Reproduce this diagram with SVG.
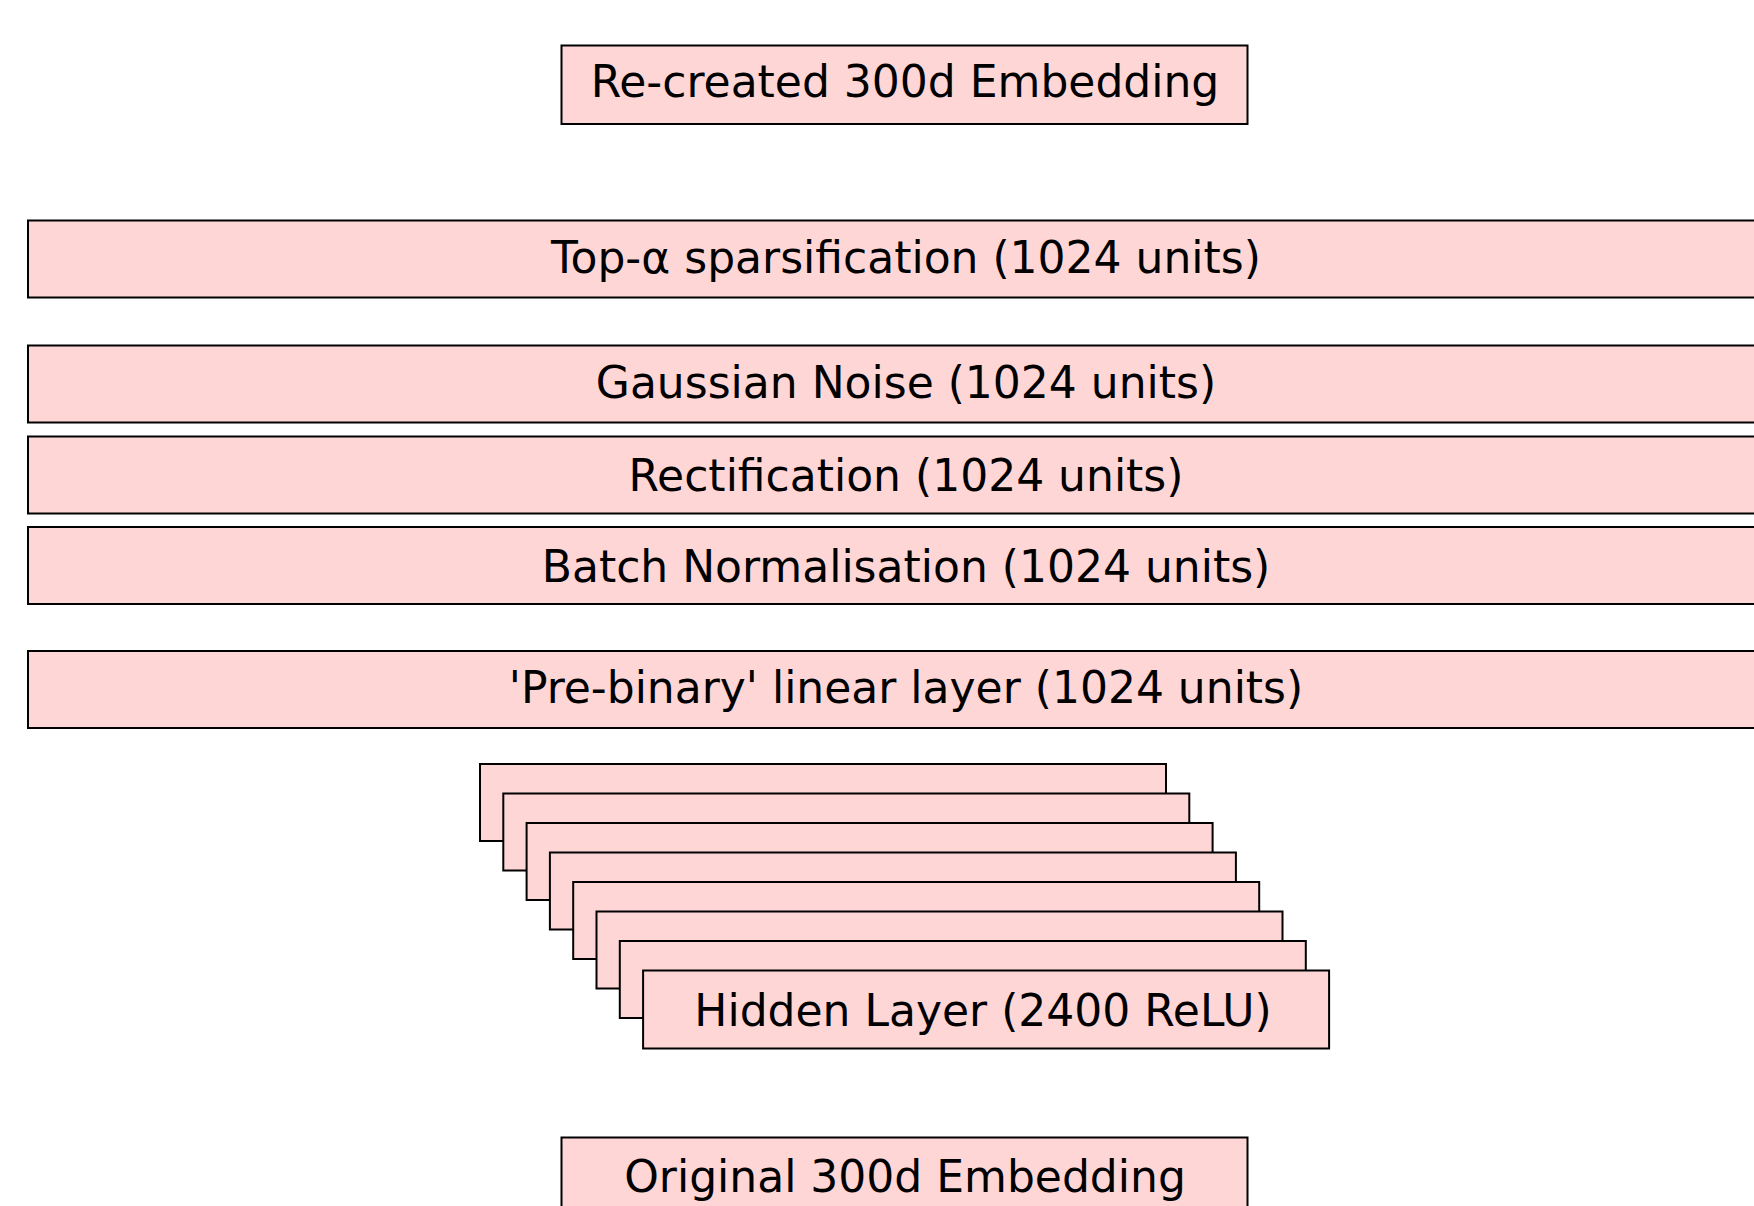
<svg xmlns="http://www.w3.org/2000/svg" width="1754" height="1206" viewBox="0 0 1754 1206">
  <style>
    .box { fill: #ffd6d6; stroke: #000000; stroke-width: 2; }
    .lbl { font-family: "DejaVu Sans", "Liberation Sans", sans-serif; font-size: 44px; fill: #000000; text-anchor: middle; }
  </style>
  <rect x="0" y="0" width="1754" height="1206" fill="#ffffff"/>

  <g id="connectors"></g>

  <g id="recreated-embedding">
    <rect class="box" x="561.5" y="45.5" width="686" height="78.5"/>
    <text class="lbl" x="905" y="97">Re-created 300d Embedding</text>
  </g>

  <g id="top-alpha">
    <rect class="box" x="28" y="220.5" width="1760" height="77"/>
    <text class="lbl" x="906" y="273">Top-α sparsification (1024 units)</text>
  </g>

  <g id="gaussian-noise">
    <rect class="box" x="28" y="345.5" width="1760" height="77"/>
    <text class="lbl" x="906" y="398">Gaussian Noise (1024 units)</text>
  </g>

  <g id="rectification">
    <rect class="box" x="28" y="436.5" width="1760" height="77"/>
    <text class="lbl" x="906" y="491">Rectification (1024 units)</text>
  </g>

  <g id="batch-norm">
    <rect class="box" x="28" y="527" width="1760" height="77"/>
    <text class="lbl" x="906" y="582">Batch Normalisation (1024 units)</text>
  </g>

  <g id="pre-binary">
    <rect class="box" x="28" y="651" width="1760" height="77"/>
    <text class="lbl" x="906" y="703">'Pre-binary' linear layer (1024 units)</text>
  </g>

  <!-- stacked copies of the hidden layer, back to front -->
  <g id="hidden-layer">
    <rect class="box" x="480" y="764" width="686" height="77"/>
    <rect class="box" x="503.3" y="793.5" width="686" height="77"/>
    <rect class="box" x="526.6" y="823" width="686" height="77"/>
    <rect class="box" x="549.9" y="852.5" width="686" height="77"/>
    <rect class="box" x="573.2" y="882" width="686" height="77"/>
    <rect class="box" x="596.5" y="911.5" width="686" height="77"/>
    <rect class="box" x="619.8" y="941" width="686" height="77"/>
    <rect class="box" x="643.1" y="970.5" width="686" height="78"/>
    <text class="lbl" x="983" y="1026">Hidden Layer (2400 ReLU)</text>
  </g>

  <g id="original-embedding">
    <rect class="box" x="561.5" y="1137.5" width="686" height="100"/>
    <text class="lbl" x="905" y="1192">Original 300d Embedding</text>
  </g>
</svg>
